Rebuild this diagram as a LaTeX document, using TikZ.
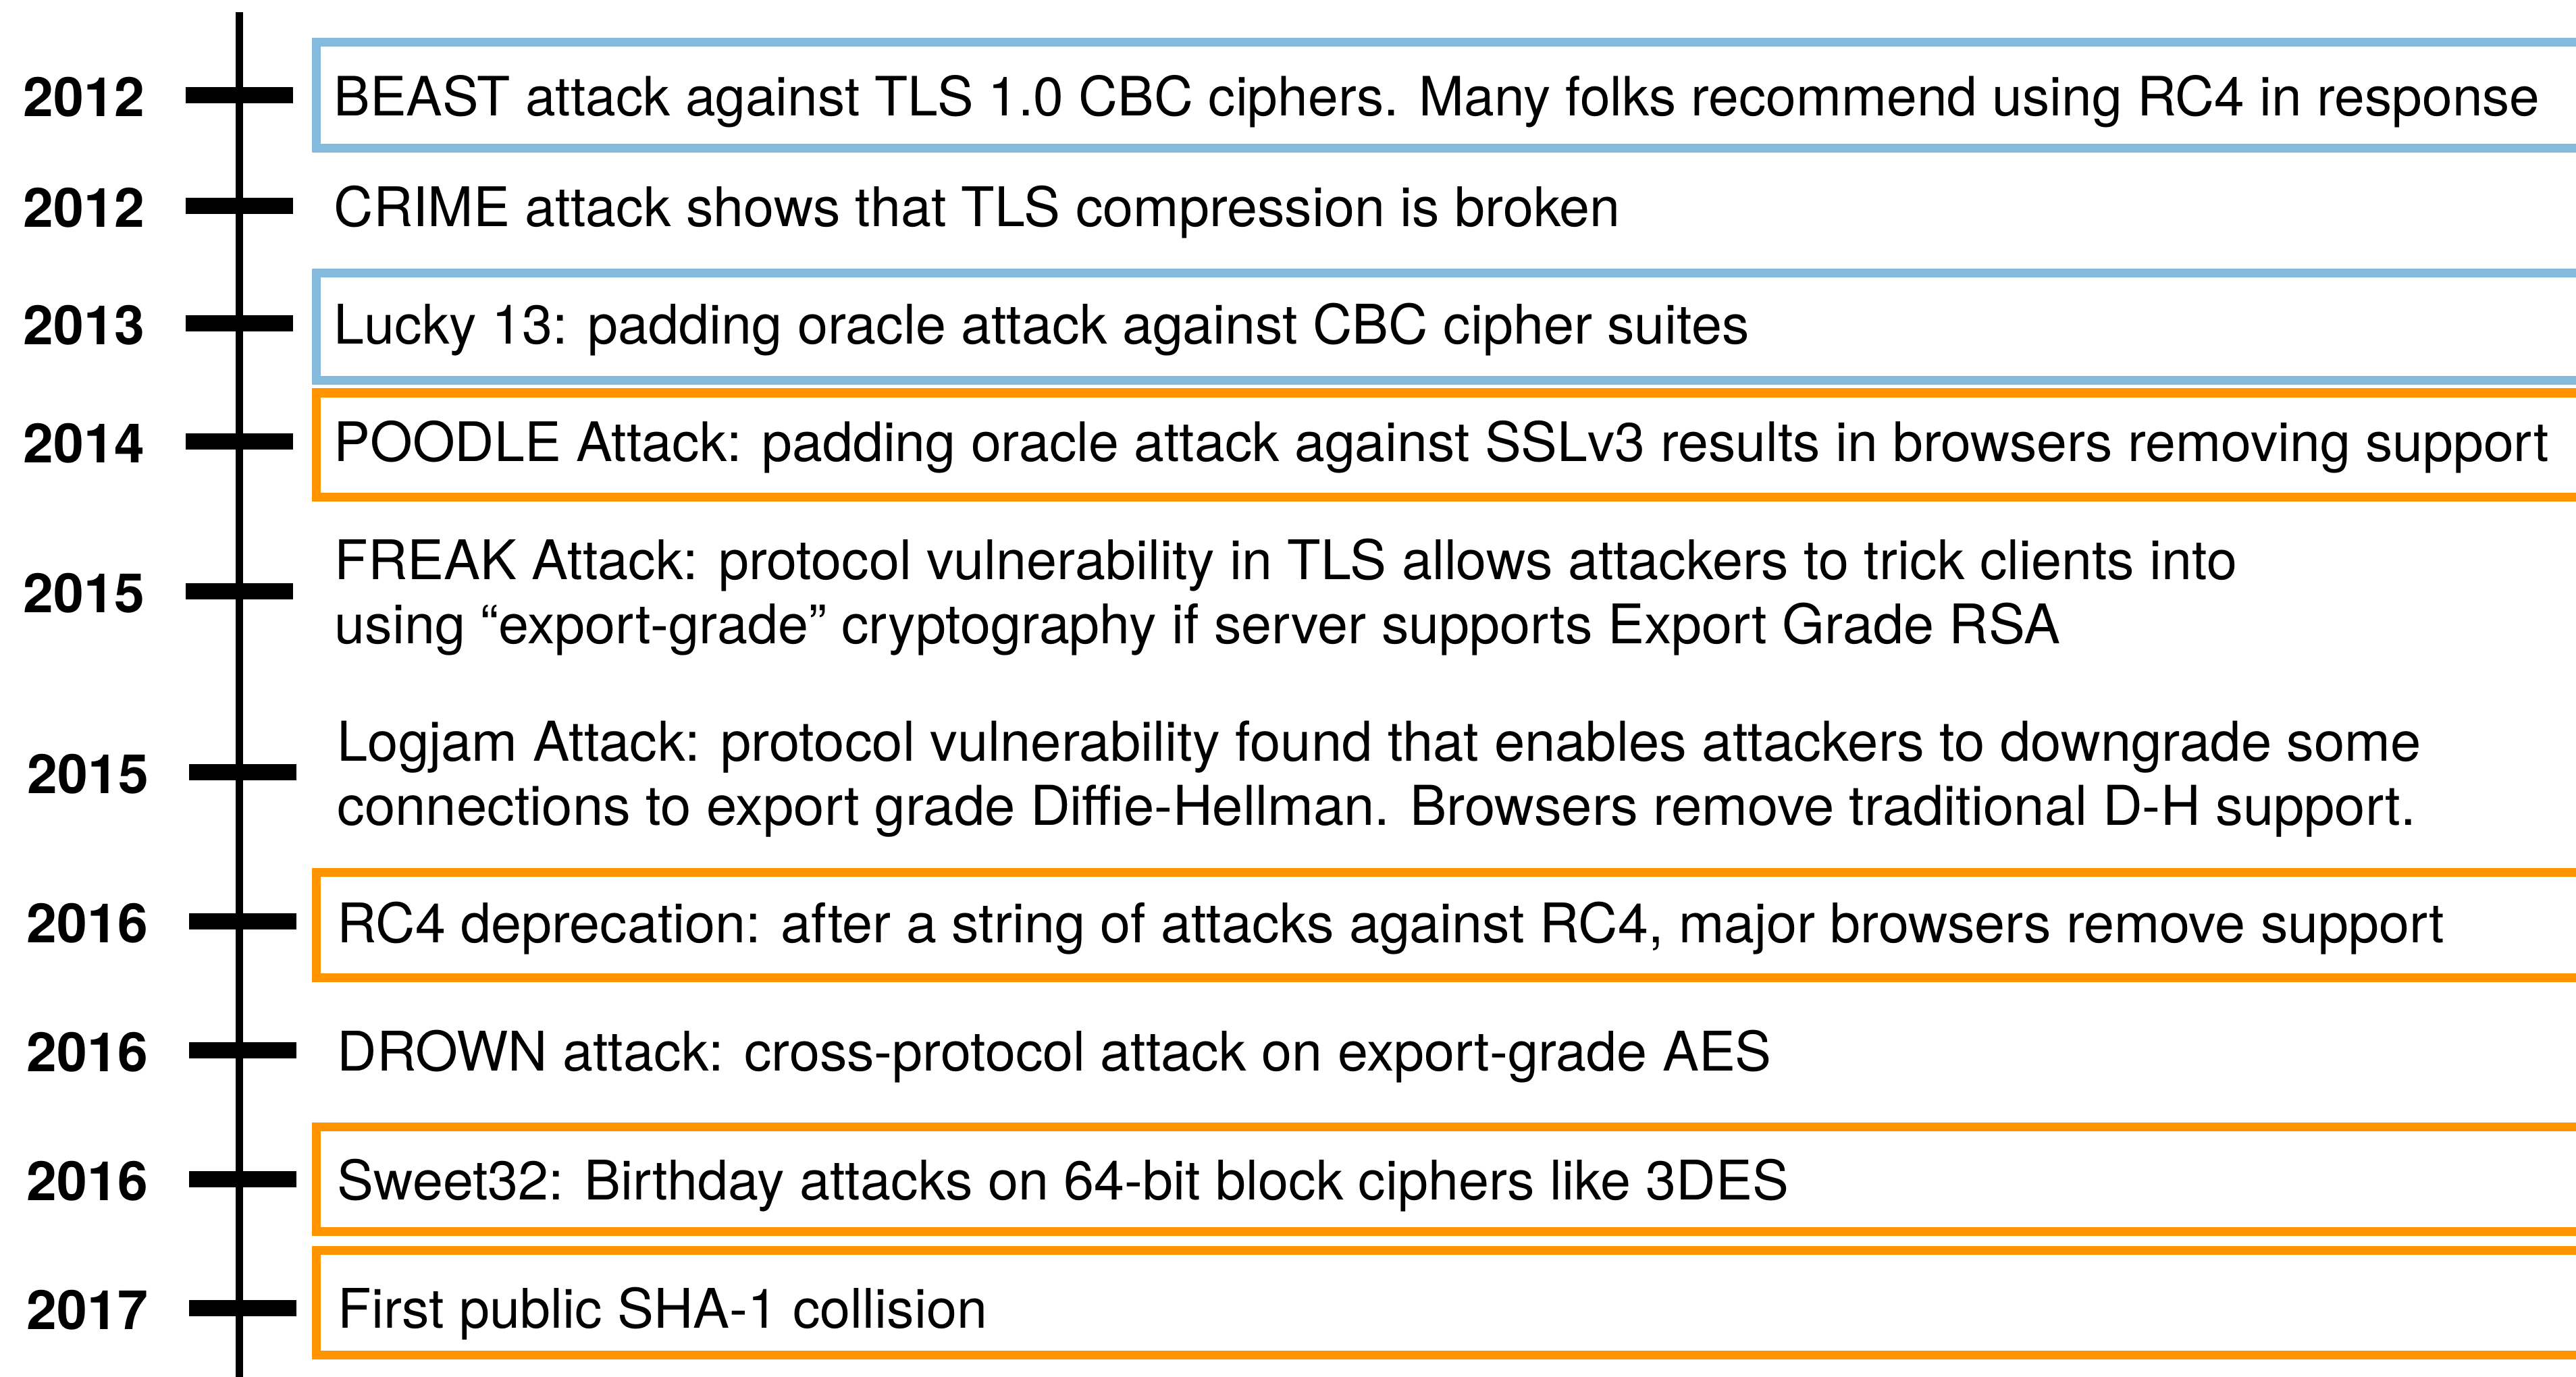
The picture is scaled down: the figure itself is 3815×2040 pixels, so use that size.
\documentclass[tikz,border=0pt]{standalone}
\usepackage{fontspec}
\setmainfont{TeX Gyre Heros}
\definecolor{boxblue}{HTML}{84BADC}
\definecolor{boxorange}{HTML}{FF9400}
\tikzset{
  event/.style={anchor=base west, inner sep=0pt, align=left,
    font=\fontsize{23.0}{27}\selectfont},
  yearlabel/.style={anchor=base west, inner sep=0pt,
    font=\fontsize{22.9}{27}\selectfont\bfseries},
  axisline/.style={line width=0.11cm, black},
  tickmark/.style={line width=0.24cm, black},
  bluebox/.style={draw=boxblue, line width=0.13cm},
  orangebox/.style={draw=boxorange, line width=0.13cm},
}
\begin{document}
\begin{tikzpicture}[x=0.01cm, y=-0.01cm]
  \useasboundingbox (0,0) rectangle (3815,2040);

  % highlight frames, open past the right edge
  \begin{scope}
    \clip (0,0) rectangle (3815,2040);
    \draw[bluebox]   (468.5,62.5)  rectangle (3900,220);
    \draw[bluebox]   (468.5,405)   rectangle (3900,563.5);
    \draw[orangebox] (468.5,582)   rectangle (3900,736.5);
    \draw[orangebox] (468.5,1292.5) rectangle (3900,1448.5);
    \draw[orangebox] (468.5,1669)  rectangle (3900,1824);
    \draw[orangebox] (468.5,1852.5) rectangle (3900,2007.5);
  \end{scope}

  % time axis
  \coordinate (axtop) at (354.5,18);
  \coordinate (axbot) at (354.5,2045);
  \draw[axisline] (axtop) -- (axbot);

  % tick marks
  \foreach \n/\y/\dx in {1/141/0, 2/305/0, 3/479/0, 4/654/0, 5/876/0,
                         6/1144/5, 7/1365/5, 8/1556/5, 9/1747/5, 10/1938/5} {
    \coordinate (tl\n) at ({275+\dx},\y);
    \coordinate (tr\n) at ({434+\dx},\y);
    \draw[tickmark] (tl\n) -- (tr\n);
  }

  % years
  \node[yearlabel] (y1)  at (34,172.5)  {2012};
  \node[yearlabel] (y2)  at (34,336.5)  {2012};
  \node[yearlabel] (y3)  at (34,510.5)  {2013};
  \node[yearlabel] (y4)  at (34,685.5)  {2014};
  \node[yearlabel] (y5)  at (34,907)    {2015};
  \node[yearlabel] (y6)  at (40,1175)   {2015};
  \node[yearlabel] (y7)  at (39,1396.5) {2016};
  \node[yearlabel] (y8)  at (39,1587.5) {2016};
  \node[yearlabel] (y9)  at (39,1778.5) {2016};
  \node[yearlabel] (y10) at (39,1969.5) {2017};

  % events (two-line entries are placed by the baseline of their last line)
  \node[event, font=\fontsize{22.85}{27}\selectfont] (e1) at (494,172) {BEAST attack against TLS 1.0 CBC ciphers. Many folks recommend using RC4 in response};
  \node[event] (e2)  at (494,336)  {CRIME attack shows that TLS compression is broken};
  \node[event] (e3)  at (494,510)  {Lucky 13: padding oracle attack against CBC cipher suites};
  \node[event, font=\fontsize{22.93}{27}\selectfont] (e4) at (494,684) {POODLE Attack: padding oracle attack against SSLv3 results in browsers removing support};
  \node[event] (e5)  at (495,953)  {FREAK Attack: protocol vulnerability in TLS allows attackers to trick clients into\\
    using “export-grade” cryptography if server supports Export Grade RSA};
  \node[event, font=\fontsize{23.15}{27}\selectfont] (e6) at (499,1222) {Logjam Attack: protocol vulnerability found that enables attackers to downgrade some\\
    connections to export grade Diffie-Hellman. Browsers remove traditional D-H support.};
  \node[event] (e7)  at (499,1396) {RC4 deprecation: after a string of attacks against RC4, major browsers remove support};
  \node[event] (e8)  at (499,1586) {DROWN attack: cross-protocol attack on export-grade AES};
  \node[event] (e9)  at (499,1777) {Sweet32: Birthday attacks on 64-bit block ciphers like 3DES};
  \node[event] (e10) at (500,1967) {First public SHA-1 collision};
\end{tikzpicture}
\end{document}
